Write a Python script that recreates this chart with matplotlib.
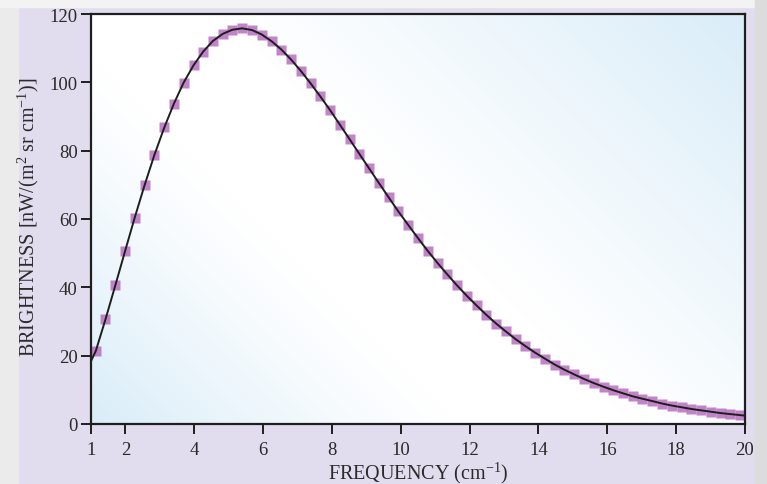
import numpy as np
import matplotlib
matplotlib.use("Agg")
import matplotlib.pyplot as plt
from matplotlib.patches import Rectangle

# measured FIRAS-style points (frequency cm^-1, brightness nW/(m^2 sr cm^-1))
freq = [1.14, 1.42, 1.71, 1.99, 2.27, 2.56, 2.84, 3.13, 3.41, 3.69, 3.98, 4.26,
        4.54, 4.83, 5.11, 5.39, 5.68, 5.96, 6.25, 6.53, 6.81, 7.10, 7.38, 7.66,
        7.95, 8.23, 8.51, 8.80, 9.08, 9.36, 9.65, 9.93, 10.22, 10.50, 10.78, 11.07,
        11.35, 11.63, 11.92, 12.20, 12.48, 12.77, 13.05, 13.34, 13.62, 13.90, 14.19,
        14.47, 14.75, 15.04, 15.32, 15.60, 15.89, 16.17, 16.45, 16.74, 17.02, 17.31,
        17.59, 17.87, 18.16, 18.44, 18.72, 19.01, 19.29, 19.57, 19.86]
bright = [21.4, 30.6, 40.7, 50.6, 60.4, 70.0, 78.7, 86.8, 93.8, 99.9, 105.0, 109.0,
          112.1, 114.2, 115.4, 115.8, 115.3, 114.0, 112.0, 109.6, 106.7, 103.3, 99.7, 95.9,
          91.8, 87.6, 83.4, 79.0, 74.8, 70.6, 66.3, 62.2, 58.2, 54.4, 50.7, 47.1,
          43.8, 40.6, 37.5, 34.7, 32.0, 29.4, 27.1, 24.8, 22.8, 20.9, 19.1,
          17.4, 15.9, 14.5, 13.2, 12.0, 10.9, 9.9, 9.0, 8.1, 7.4, 6.7,
          6.0, 5.4, 4.9, 4.4, 4.0, 3.6, 3.2, 2.9, 2.6]
# blackbody fit curve, endpoints at the axis limits
fit_x = [1.0] + freq + [20.0]
fit_y = [18.4] + bright + [2.45]

LAV = "#e2ddee"; GREY = "#ebebeb"; BLUE = np.array([0.85, 0.928, 0.973])
SQ = "#b86ebf"; INK = "#1e1e1e"; TXT = "#2a2a2a"
plt.rcParams.update({"font.family": "Liberation Serif", "font.size": 13.5,
                     "mathtext.fontset": "custom", "mathtext.rm": "Liberation Serif",
                     "mathtext.it": "Liberation Serif:italic"})

fig = plt.figure(figsize=(7.67, 4.85), dpi=100, facecolor=LAV)
# outer page strips (behind everything)
for (x0, y0, w, h, c) in [(0, 0, 18/767, 1, GREY), (0, 1-8/485, 1, 8/485, "#f3f3f3"),
                          (755/767, 0, 12/767, 1, "#dcdcdc")]:
    fig.patches.append(Rectangle((x0, y0), w, h, transform=fig.transFigure, color=c, zorder=-5))

ax = fig.add_axes([91/767, 60/485, 654/767, 410/485], zorder=2)

# diagonal blue-white-blue wash behind the plot
W, H = 654, 410
px, py = np.meshgrid(np.arange(W), np.arange(H)[::-1])
p = px + py
t = np.clip(1 - p/370, 0, 1)**1.2 + np.clip((p - 540)/(W + H - 540), 0, 1)**1.1
t = np.clip(t, 0, 1)[..., None]
img = (1 - t)*1.0 + t*BLUE
ax.imshow(img, extent=[1, 20, 0, 120], aspect="auto", zorder=0, origin="upper")

ax.plot(freq, bright, ls="none", marker="s", ms=6.6, color=SQ, alpha=0.85, mec="none", zorder=2)
ax.plot(fit_x, fit_y, color=INK, lw=1.4, zorder=3)

ax.set_xlim(1, 20); ax.set_ylim(0, 120)
ax.set_xticks([1, 2, 4, 6, 8, 10, 12, 14, 16, 18, 20])
ax.set_yticks(range(0, 121, 20))
ax.tick_params(direction="out", length=7, width=1.4, color=INK, labelcolor=TXT)
ax.tick_params(axis="x", pad=5.5)
ax.tick_params(axis="y", pad=2.5)
for s in ax.spines.values():
    s.set_linewidth(1.6); s.set_color(INK)
ax.set_xlabel(r"FREQUENCY (cm$^{-1}$)", color=TXT, fontsize=14.5)
ax.set_ylabel(r"BRIGHTNESS [nW/(m$^{2}$ sr cm$^{-1}$)]", color=TXT, fontsize=14.5)
ax.xaxis.set_label_coords(0.5, -0.088)
ax.yaxis.set_label_coords(-0.077, 0.507)

fig.savefig("out.png", dpi=100, facecolor=LAV)
